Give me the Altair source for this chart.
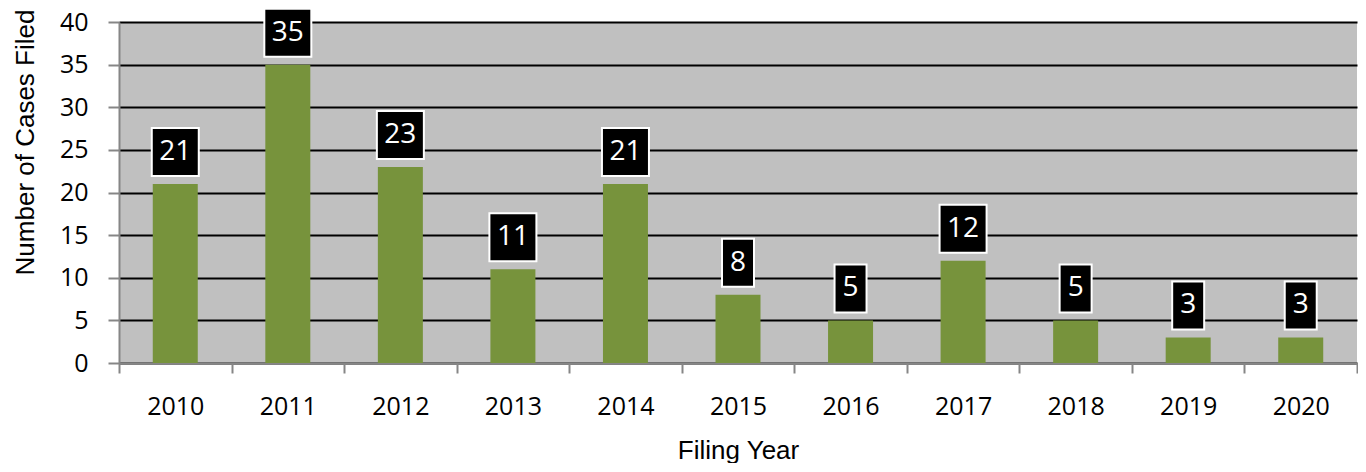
import altair as alt
import pandas as pd

years = ["2010", "2011", "2012", "2013", "2014", "2015", "2016", "2017", "2018", "2019", "2020"]
cases = [21, 35, 23, 11, 21, 8, 5, 12, 5, 3, 3]

df = pd.DataFrame({"year": years, "cases": cases})

GREEN = "#77933C"
GRAY_AX = "#868686"
TITLE_FONT = "Liberation Sans Narrow, Liberation Sans, Arial, sans-serif"

x_scale = alt.Scale(paddingInner=0, paddingOuter=0)

x_enc = alt.X(
    "year:N",
    sort=years,
    scale=x_scale,
    axis=alt.Axis(
        title="Filing Year",
        labelAngle=0,
        tickBand="extent",
        tickSize=10,
        tickColor=GRAY_AX,
        tickWidth=2,
        domainColor=GRAY_AX,
        domainWidth=2,
        labelFont="Open Sans",
        labelFontSize=25,
        labelColor="black",
        labelBaseline="alphabetic",
        labelPadding=41,
        titleFont=TITLE_FONT,
        titleFontSize=26,
        titleFontWeight="normal",
        titleColor="black",
        titleBaseline="middle",
        titleY=87,
        grid=False,
    ),
)

y_scale = alt.Scale(domain=[0, 40], nice=False)

bars = alt.Chart(df).mark_bar(color=GREEN, width=45).encode(
    x=x_enc,
    y=alt.Y(
        "cases:Q",
        scale=y_scale,
        axis=alt.Axis(
            title="Number of Cases Filed",
            values=[0, 5, 10, 15, 20, 25, 30, 35, 40],
            grid=True,
            gridColor="black",
            gridWidth=2,
            gridOpacity=1,
            tickSize=11,
            tickColor=GRAY_AX,
            tickWidth=2,
            domainColor=GRAY_AX,
            domainWidth=2,
            labelFont="Open Sans",
            labelFontSize=25,
            labelColor="black",
            labelPadding=20,
            titleFont=TITLE_FONT,
            titleFontSize=26,
            titleFontWeight="normal",
            titleColor="black",
            titleAngle=-90,
            titleAlign="center",
            titleBaseline="middle",
            titleX=-94,
            titleY=120,
        ),
    ),
)

box_wide = alt.Chart(df).transform_filter("datum.cases >= 10").mark_bar(
    color="black", stroke="white", strokeWidth=2, width=47, yOffset=-8, y2Offset=-56
).encode(x=alt.X("year:N", sort=years, scale=x_scale), y=alt.Y("cases:Q", scale=y_scale), y2="cases:Q")

box_narrow = alt.Chart(df).transform_filter("datum.cases < 10").mark_bar(
    color="black", stroke="white", strokeWidth=2, width=32, yOffset=-8, y2Offset=-56
).encode(x=alt.X("year:N", sort=years, scale=x_scale), y=alt.Y("cases:Q", scale=y_scale), y2="cases:Q")

labels = alt.Chart(df).mark_text(
    color="white", font="Open Sans", fontSize=28, baseline="middle", align="center", dy=-32
).encode(x=alt.X("year:N", sort=years, scale=x_scale), y=alt.Y("cases:Q", scale=y_scale), text="cases:Q")

chart = alt.layer(bars, box_wide, box_narrow, labels).properties(
    width=1238,
    height=341,
    autosize=alt.AutoSizeParams(type="none"),
    padding={"left": 111, "top": 14, "right": 1, "bottom": 100},
).configure_view(fill="#C0C0C0", stroke=None)

chart.save("out.html", embed_options={"renderer": "svg", "actions": False})
